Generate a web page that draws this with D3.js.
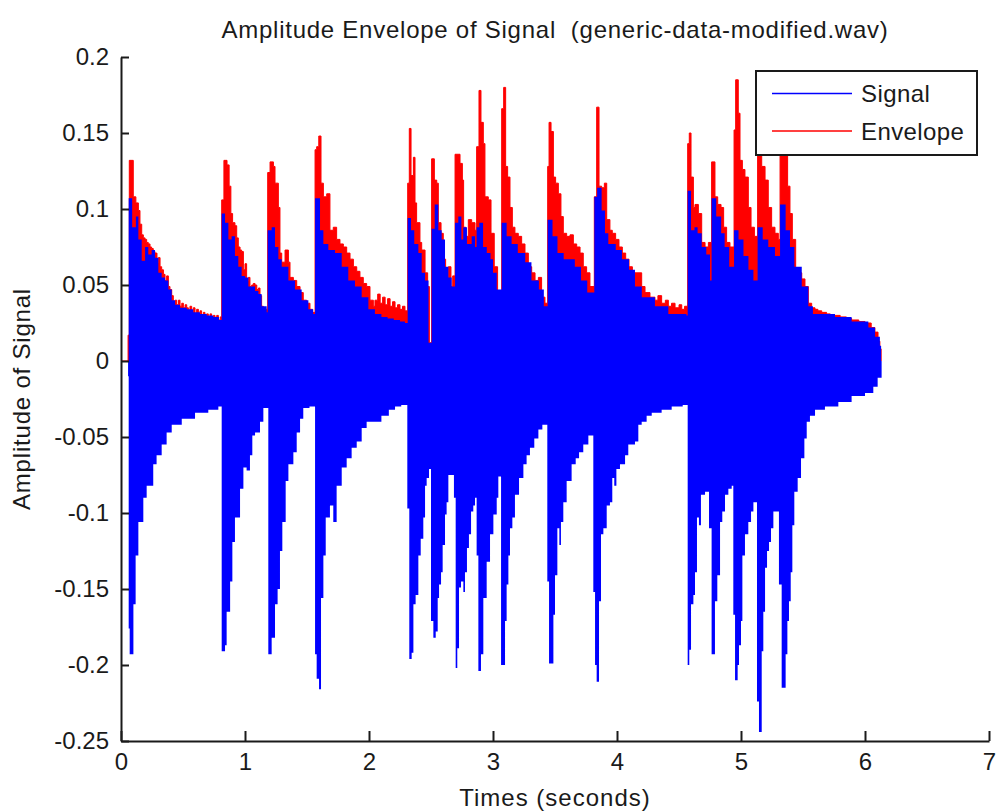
<!DOCTYPE html>
<html>
<head>
<meta charset="utf-8">
<script src="https://cdn.jsdelivr.net/npm/d3@7.9.0/dist/d3.min.js"></script>
<style>
  html, body { margin: 0; padding: 0; background: #fff; }
  svg { display: block; font-family: "Liberation Sans", Arial, sans-serif; }
</style>
</head>
<body>
<div id="chart"></div>
<script>
// values: [time (s), amplitude]
const envelope = [
  [0,0],[0.057,0.017],[0.067,0.132],[0.099,0.108],[0.12,0.104],[0.14,0.099],[0.153,0.090],[0.167,0.083],[0.18,0.081],[0.194,0.080],
  [0.207,0.078],[0.22,0.077],[0.234,0.075],[0.247,0.074],[0.26,0.072],[0.274,0.071],[0.29,0.065],[0.301,0.068],[0.315,0.062],[0.328,0.060],
  [0.342,0.057],[0.355,0.053],[0.368,0.056],[0.382,0.049],[0.395,0.047],[0.409,0.043],[0.422,0.038],[0.436,0.040],[0.449,0.037],[0.463,0.040],
  [0.476,0.036],[0.49,0.038],[0.503,0.035],[0.517,0.037],[0.53,0.035],[0.543,0.033],[0.556,0.036],[0.57,0.032],[0.583,0.035],[0.597,0.031],
  [0.61,0.034],[0.624,0.031],[0.637,0.033],[0.65,0.030],[0.664,0.032],[0.677,0.030],[0.691,0.031],[0.704,0.029],[0.718,0.031],[0.731,0.029],
  [0.745,0.030],[0.758,0.028],[0.772,0.030],[0.785,0.027],[0.80,0.029],
  [0.812,0.106],[0.83,0.132],[0.855,0.129],[0.872,0.115],[0.886,0.097],[0.90,0.091],[0.919,0.089],[0.933,0.081],[0.946,0.075],[0.96,0.073],
  [0.973,0.072],[0.987,0.060],[1.0,0.064],[1.013,0.053],[1.027,0.055],[1.04,0.049],[1.054,0.050],[1.067,0.051],[1.081,0.050],[1.095,0.047],
  [1.108,0.048],[1.121,0.043],[1.134,0.036],[1.148,0.035],[1.161,0.034],[1.175,0.034],
  [1.183,0.124],[1.202,0.131],[1.229,0.128],[1.242,0.117],[1.269,0.101],[1.282,0.071],[1.296,0.065],[1.323,0.073],[1.35,0.065],[1.363,0.055],
  [1.39,0.053],[1.417,0.049],[1.444,0.045],[1.47,0.040],[1.497,0.038],[1.524,0.034],[1.545,0.032],
  [1.565,0.139],[1.578,0.141],[1.595,0.148],[1.613,0.117],[1.632,0.108],[1.659,0.110],[1.685,0.086],[1.712,0.088],[1.739,0.080],[1.766,0.077],
  [1.793,0.075],[1.82,0.071],[1.847,0.067],[1.874,0.062],[1.901,0.059],[1.927,0.055],[1.954,0.051],[1.981,0.049],[2.008,0.040],[2.035,0.036],
  [2.048,0.040],[2.07,0.044],[2.09,0.038],[2.11,0.042],[2.13,0.037],[2.15,0.041],[2.17,0.036],[2.19,0.039],[2.21,0.035],[2.23,0.037],
  [2.25,0.034],[2.27,0.036],[2.29,0.033],
  [2.312,0.117],[2.325,0.153],[2.339,0.122],[2.358,0.134],[2.371,0.104],[2.384,0.091],[2.411,0.078],[2.425,0.073],[2.452,0.058],[2.473,0.049],[2.487,0.012],
  [2.505,0.133],[2.527,0.119],[2.546,0.117],[2.559,0.091],[2.581,0.084],[2.599,0.067],[2.618,0.053],[2.64,0.062],[2.661,0.049],[2.675,0.056],
  [2.694,0.136],[2.734,0.130],[2.753,0.119],[2.763,0.088],[2.78,0.082],[2.801,0.093],[2.828,0.091],[2.855,0.086],
  [2.868,0.141],[2.887,0.178],[2.903,0.157],[2.922,0.143],[2.935,0.108],[2.962,0.106],[2.984,0.084],[3.01,0.062],[3.037,0.045],
  [3.07,0.166],[3.086,0.180],[3.102,0.128],[3.118,0.121],[3.137,0.101],[3.156,0.088],[3.177,0.084],[3.204,0.082],[3.231,0.077],[3.258,0.071],
  [3.285,0.062],[3.312,0.058],[3.339,0.053],[3.366,0.055],[3.392,0.042],[3.419,0.038],
  [3.441,0.128],[3.452,0.157],[3.468,0.151],[3.487,0.121],[3.505,0.117],[3.527,0.110],[3.548,0.095],[3.567,0.084],[3.594,0.082],[3.621,0.083],
  [3.648,0.077],[3.675,0.075],[3.702,0.071],[3.728,0.062],[3.755,0.058],[3.782,0.049],
  [3.817,0.108],[3.836,0.167],[3.855,0.115],[3.876,0.114],[3.898,0.117],[3.917,0.093],[3.943,0.086],[3.962,0.084],[3.989,0.080],[4.016,0.075],
  [4.043,0.071],[4.07,0.067],[4.097,0.062],[4.124,0.055],
  [4.145,0.058],[4.199,0.049],[4.226,0.045],[4.266,0.042],[4.306,0.040],[4.33,0.043],[4.36,0.038],[4.39,0.040],[4.414,0.036],[4.44,0.038],
  [4.468,0.035],[4.50,0.037],[4.522,0.034],[4.545,0.036],
  [4.57,0.143],[4.583,0.150],[4.597,0.121],[4.616,0.101],[4.629,0.103],[4.656,0.097],[4.683,0.078],[4.71,0.075],[4.737,0.078],
  [4.763,0.131],[4.79,0.108],[4.812,0.103],[4.839,0.101],[4.86,0.088],[4.884,0.078],[4.911,0.075],
  [4.944,0.152],[4.957,0.185],[4.978,0.163],[4.992,0.132],[5.011,0.126],[5.032,0.121],[5.059,0.101],[5.081,0.088],[5.108,0.082],
  [5.134,0.140],[5.167,0.128],[5.194,0.119],[5.22,0.101],[5.247,0.088],[5.274,0.084],[5.301,0.080],
  [5.315,0.142],[5.376,0.115],[5.395,0.097],[5.414,0.080],[5.441,0.060],[5.468,0.058],[5.49,0.054],[5.516,0.049],[5.543,0.038],
  [5.57,0.035],[5.597,0.034],[5.62,0.033],[5.651,0.032],[5.69,0.031],[5.72,0.030],[5.758,0.030],[5.80,0.029],[5.85,0.028],[5.892,0.027],
  [5.95,0.026],[6.00,0.025],[6.05,0.022],[6.08,0.019],[6.105,0.013],[6.12,0.008],[6.13,0]
];

const signalMax = [
  [0,0],[0.062,0.107],[0.09,0.088],[0.12,0.095],[0.14,0.080],[0.167,0.066],[0.194,0.075],[0.22,0.070],[0.247,0.073],[0.274,0.068],
  [0.301,0.058],[0.328,0.055],[0.355,0.053],[0.382,0.047],[0.409,0.040],[0.436,0.037],[0.476,0.035],[0.53,0.034],[0.583,0.032],[0.637,0.031],
  [0.691,0.030],[0.745,0.029],[0.79,0.027],
  [0.812,0.097],[0.839,0.091],[0.866,0.080],[0.892,0.082],[0.919,0.069],[0.946,0.062],[0.973,0.056],[1.0,0.055],[1.027,0.049],[1.081,0.046],
  [1.108,0.044],[1.134,0.036],[1.175,0.032],
  [1.183,0.086],[1.215,0.088],[1.242,0.075],[1.269,0.067],[1.296,0.062],[1.35,0.053],[1.403,0.047],[1.457,0.040],[1.511,0.034],[1.55,0.031],
  [1.565,0.107],[1.605,0.086],[1.632,0.077],[1.672,0.073],[1.726,0.071],[1.78,0.062],[1.833,0.053],[1.887,0.049],[1.941,0.042],[1.995,0.034],
  [2.048,0.031],[2.1,0.029],[2.15,0.028],[2.2,0.027],[2.25,0.026],[2.29,0.025],
  [2.312,0.094],[2.339,0.086],[2.365,0.077],[2.398,0.071],[2.425,0.058],[2.452,0.053],[2.48,0.012],
  [2.505,0.087],[2.53,0.103],[2.559,0.086],[2.586,0.080],[2.613,0.062],[2.64,0.055],[2.667,0.049],
  [2.694,0.091],[2.72,0.095],[2.745,0.080],[2.76,0.088],[2.79,0.077],[2.828,0.082],[2.855,0.075],
  [2.868,0.088],[2.89,0.091],[2.92,0.075],[2.95,0.071],[2.98,0.067],[3.0,0.058],[3.03,0.047],
  [3.07,0.091],[3.11,0.082],[3.15,0.077],[3.2,0.071],[3.26,0.065],[3.31,0.053],[3.37,0.047],[3.41,0.036],
  [3.441,0.093],[3.48,0.082],[3.52,0.071],[3.57,0.067],[3.66,0.062],[3.71,0.053],[3.76,0.045],
  [3.817,0.108],[3.84,0.114],[3.876,0.099],[3.903,0.084],[3.93,0.077],[3.99,0.073],[4.04,0.067],[4.097,0.060],[4.145,0.049],[4.2,0.042],
  [4.306,0.036],[4.414,0.031],[4.56,0.030],
  [4.57,0.112],[4.597,0.086],[4.625,0.088],[4.65,0.084],[4.683,0.075],[4.72,0.070],[4.75,0.053],
  [4.763,0.107],[4.8,0.095],[4.84,0.084],[4.868,0.075],[4.905,0.062],
  [4.944,0.086],[4.98,0.080],[5.02,0.069],[5.06,0.060],[5.1,0.053],
  [5.134,0.088],[5.175,0.080],[5.22,0.075],[5.274,0.069],
  [5.315,0.103],[5.36,0.086],[5.395,0.075],[5.43,0.062],[5.49,0.049],[5.543,0.036],[5.58,0.031],[5.758,0.029],[5.892,0.026],[6.027,0.022],
  [6.081,0.016],[6.12,0.010],[6.13,0]
];

const signalMin = [
  [0,0],[0.057,-0.010],[0.062,-0.176],[0.07,-0.193],[0.10,-0.160],[0.118,-0.128],[0.14,-0.106],[0.18,-0.090],[0.207,-0.082],[0.26,-0.068],
  [0.287,-0.062],[0.328,-0.055],[0.368,-0.047],[0.409,-0.042],[0.49,-0.038],[0.597,-0.034],[0.704,-0.032],[0.785,-0.030],
  [0.812,-0.191],[0.839,-0.187],[0.852,-0.165],[0.88,-0.145],[0.898,-0.119],[0.919,-0.103],[0.96,-0.084],[0.987,-0.070],[1.013,-0.072],[1.04,-0.062],
  [1.059,-0.049],[1.081,-0.047],[1.121,-0.040],[1.148,-0.031],
  [1.188,-0.193],[1.215,-0.182],[1.242,-0.160],[1.263,-0.150],[1.282,-0.125],[1.301,-0.106],[1.328,-0.079],[1.35,-0.068],[1.39,-0.060],[1.417,-0.047],
  [1.444,-0.038],[1.47,-0.031],[1.52,-0.030],
  [1.565,-0.193],[1.578,-0.209],[1.597,-0.216],[1.613,-0.156],[1.632,-0.128],[1.651,-0.103],[1.685,-0.095],[1.712,-0.106],[1.739,-0.082],[1.78,-0.070],
  [1.82,-0.064],[1.86,-0.057],[1.901,-0.053],[1.941,-0.044],[1.981,-0.040],
  [2.048,-0.040],[2.1,-0.036],[2.16,-0.032],[2.21,-0.030],[2.26,-0.029],
  [2.309,-0.097],[2.325,-0.196],[2.344,-0.192],[2.358,-0.160],[2.376,-0.154],[2.398,-0.128],[2.417,-0.117],[2.438,-0.103],[2.452,-0.082],[2.465,-0.077],[2.484,-0.071],
  [2.5,-0.171],[2.519,-0.182],[2.538,-0.178],[2.554,-0.156],[2.565,-0.147],[2.581,-0.139],[2.594,-0.121],[2.613,-0.101],[2.626,-0.093],[2.64,-0.075],
  [2.685,-0.090],[2.699,-0.202],[2.712,-0.189],[2.726,-0.149],[2.742,-0.145],[2.761,-0.152],[2.774,-0.139],[2.79,-0.123],[2.806,-0.114],[2.823,-0.099],
  [2.841,-0.095],[2.855,-0.090],
  [2.868,-0.128],[2.882,-0.204],[2.903,-0.193],[2.922,-0.156],[2.949,-0.132],[2.976,-0.114],[3.003,-0.101],[3.03,-0.090],[3.043,-0.076],
  [3.065,-0.200],[3.097,-0.171],[3.11,-0.147],[3.124,-0.128],[3.137,-0.110],[3.156,-0.103],[3.177,-0.088],[3.21,-0.077],[3.245,-0.068],[3.271,-0.062],
  [3.298,-0.057],[3.333,-0.051],[3.366,-0.045],[3.398,-0.042],
  [3.438,-0.145],[3.452,-0.199],[3.487,-0.167],[3.5,-0.141],[3.519,-0.110],[3.535,-0.121],[3.548,-0.106],[3.567,-0.093],[3.594,-0.079],[3.634,-0.068],
  [3.667,-0.064],[3.694,-0.060],[3.728,-0.055],[3.769,-0.049],
  [3.809,-0.152],[3.823,-0.200],[3.836,-0.211],[3.855,-0.158],[3.871,-0.114],[3.89,-0.110],[3.917,-0.095],[3.943,-0.093],[3.962,-0.077],[3.978,-0.082],
  [3.995,-0.071],[4.024,-0.068],[4.065,-0.062],[4.091,-0.055],
  [4.145,-0.053],[4.172,-0.042],[4.199,-0.040],[4.239,-0.036],[4.28,-0.034],[4.36,-0.032],[4.441,-0.030],[4.53,-0.029],
  [4.57,-0.200],[4.583,-0.190],[4.597,-0.160],[4.616,-0.154],[4.629,-0.139],[4.645,-0.103],[4.661,-0.108],[4.677,-0.088],[4.71,-0.086],
  [4.742,-0.110],[4.763,-0.193],[4.79,-0.158],[4.809,-0.141],[4.831,-0.106],[4.849,-0.099],[4.871,-0.088],[4.898,-0.084],[4.925,-0.082],
  [4.938,-0.167],[4.952,-0.210],[4.973,-0.200],[4.984,-0.187],[5.0,-0.171],[5.011,-0.128],[5.032,-0.114],[5.059,-0.106],[5.081,-0.099],[5.1,-0.093],
  [5.129,-0.224],[5.145,-0.244],[5.167,-0.191],[5.18,-0.165],[5.194,-0.136],[5.21,-0.125],[5.226,-0.119],[5.242,-0.110],[5.261,-0.099],
  [5.306,-0.147],[5.328,-0.215],[5.36,-0.193],[5.374,-0.171],[5.387,-0.158],[5.401,-0.139],[5.414,-0.108],[5.43,-0.086],[5.457,-0.077],[5.484,-0.064],
  [5.511,-0.051],[5.53,-0.040],[5.556,-0.036],[5.597,-0.032],[5.677,-0.030],[5.785,-0.027],[5.892,-0.023],[6.0,-0.021],[6.067,-0.017],[6.102,-0.011],
  [6.134,0]
];

const xTicks = [0, 1, 2, 3, 4, 5, 6, 7];
const yTicks = [0.2, 0.15, 0.1, 0.05, 0, -0.05, -0.1, -0.15, -0.2, -0.25];
const yTickLabels = ["0.2", "0.15", "0.1", "0.05", "0", "-0.05", "-0.1", "-0.15", "-0.2", "-0.25"];
const seriesNames = ["Signal", "Envelope"];
const seriesColors = ["#0000ff", "#ff0000"];

const W = 997, H = 812;
const plot = { left: 121, right: 989, top: 57, bottom: 741 };
const ink = "#1a1a1a";
const fontSize = 24;

const svg = d3.select("#chart").append("svg")
    .attr("width", W)
    .attr("height", H);

const x = d3.scaleLinear().domain([0, 7]).range([plot.left, plot.right]);
const y = d3.scaleLinear().domain([-0.25, 0.2]).range([plot.bottom, plot.top]);

// envelope first, signal drawn over it
svg.append("path")
    .datum(envelope)
    .attr("fill", seriesColors[1])
    .attr("d", d3.area().curve(d3.curveStepAfter)
        .x(d => x(d[0])).y0(y(0)).y1(d => y(d[1])));
svg.append("path")
    .datum(envelope)
    .attr("fill", "none")
    .attr("stroke", seriesColors[1])
    .attr("stroke-width", 1)
    .attr("d", d3.line().curve(d3.curveStepAfter)
        .x(d => x(d[0])).y(d => y(d[1])));

svg.append("path")
    .datum(signalMax)
    .attr("fill", seriesColors[0])
    .attr("d", d3.area().curve(d3.curveStepAfter)
        .x(d => x(d[0])).y0(y(0)).y1(d => y(d[1])));
svg.append("path")
    .datum(signalMin)
    .attr("fill", seriesColors[0])
    .attr("d", d3.area().curve(d3.curveStepAfter)
        .x(d => x(d[0])).y0(d => y(d[1])).y1(y(0)));

// axes, ticks pointing inward like matlab
const xAxis = svg.append("g")
    .attr("transform", `translate(0,${plot.bottom})`)
    .call(d3.axisBottom(x).tickValues(xTicks).tickSize(-10).tickPadding(12).tickSizeOuter(0).tickFormat(d3.format("d")));

const yAxis = svg.append("g")
    .attr("transform", `translate(${plot.left},0)`)
    .call(d3.axisLeft(y).tickValues(yTicks).tickSize(-8).tickPadding(12).tickSizeOuter(0)
        .tickFormat((d, i) => yTickLabels[i]));

[xAxis, yAxis].forEach(g => {
    g.select(".domain").attr("stroke", ink).attr("stroke-width", 2);
    g.selectAll(".tick line").attr("stroke", ink).attr("stroke-width", 2);
    g.selectAll(".tick text")
        .attr("fill", ink)
        .style("font-size", fontSize + "px")
        .style("font-family", "'Liberation Sans', Arial, sans-serif");
});

svg.append("text")
    .attr("x", (plot.left + plot.right) / 2)
    .attr("y", 38)
    .attr("text-anchor", "middle")
    .attr("fill", ink)
    .style("font-size", fontSize + "px")
    .style("letter-spacing", "0.75px")
    .style("white-space", "pre")
    .text("Amplitude Envelope of Signal  (generic-data-modified.wav)");

svg.append("text")
    .attr("x", (plot.left + plot.right) / 2)
    .attr("y", 806)
    .attr("text-anchor", "middle")
    .attr("fill", ink)
    .style("font-size", fontSize + "px")
    .style("letter-spacing", "1px")
    .text("Times (seconds)");

svg.append("text")
    .attr("transform", `translate(30,${(plot.top + plot.bottom) / 2}) rotate(-90)`)
    .attr("text-anchor", "middle")
    .attr("fill", ink)
    .style("font-size", fontSize + "px")
    .style("letter-spacing", "0.8px")
    .text("Amplitude of Signal");

// legend
const legend = svg.append("g").attr("transform", "translate(756,71)");
legend.append("rect")
    .attr("width", 221)
    .attr("height", 84)
    .attr("fill", "#fff")
    .attr("stroke", ink)
    .attr("stroke-width", 2);

seriesNames.forEach((name, i) => {
    const ly = 22.5 + i * 37.5;
    legend.append("line")
        .attr("x1", 16).attr("x2", 96)
        .attr("y1", ly).attr("y2", ly)
        .attr("stroke", seriesColors[i])
        .attr("stroke-width", 1.5);
    legend.append("text")
        .attr("x", 105)
        .attr("y", ly + 8.5)
        .attr("fill", ink)
        .style("font-size", fontSize + "px")
        .style("letter-spacing", "0.4px")
        .text(name);
});
</script>
</body>
</html>
